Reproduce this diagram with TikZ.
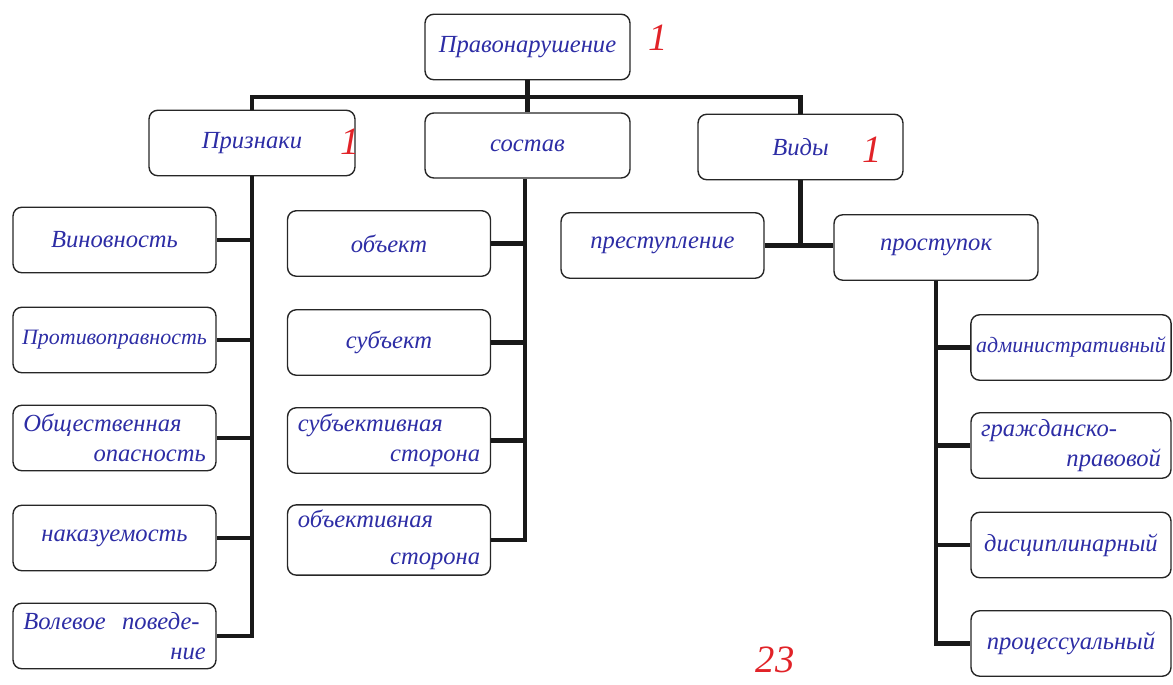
\documentclass[tikz,border=0pt]{standalone}
\usepackage{fontspec}
\setmainfont{Liberation Serif}
\definecolor{ink}{RGB}{45,45,165}
\definecolor{redink}{RGB}{225,35,40}
\begin{document}
\begin{tikzpicture}[x=0.02cm,y=-0.02cm,
  box/.style={draw=black!85, line width=0.8pt, rounded corners=5pt,
    minimum width=4.06cm, minimum height=1.31cm, inner sep=3pt,
    font=\fontsize{14}{17}\selectfont\itshape, text=ink, align=center},
  longword/.style={box, font=\fontsize{12.5}{15}\selectfont\itshape},
  twoline/.style={box, text width=3.65cm, align=left},
  link/.style={line width=2.3pt, line join=miter, draw=black!90},
  redmark/.style={text=redink, font=\fontsize{22}{24}\selectfont\itshape, inner sep=0pt}]
\useasboundingbox (0,0) rectangle (1173,685);

% top level
\node[box, minimum width=4.1cm] (root) at (527.5,47) {Правонарушение};
\node[box, minimum width=4.12cm] (priz) at (252,143) {Признаки};
\node[box, minimum width=4.1cm, minimum height=1.3cm] (sost) at (527.5,145.5) {состав};
\node[box, minimum width=4.1cm] (vidy) at (800.5,147) {Виды};

% left column
\node[box] (vin)  at (114.5,240) {Виновность};
\node[longword] (prot) at (114.5,340) {Противоправность};
\node[twoline] (obsh) at (114.5,438) {Общественная\\\mbox{}\hfill опасность};
\node[box] (nak)  at (114.5,538) {наказуемость};
\node[twoline] (vol)  at (114.5,636) {Волевое\ \ поведе-\\\mbox{}\hfill ние};

% middle column
\node[box] (obj)   at (389,243.5) {объект};
\node[box] (subj)  at (389,342.5) {субъект};
\node[twoline] (subjst) at (389,440.5) {субъективная\\\mbox{}\hfill сторона};
\node[twoline] (objst)  at (389,540) {объективная\\[4pt]\mbox{}\hfill сторона};

% right part
\node[box] (prest) at (662.5,245.5) {преступление};
\node[box, minimum width=4.08cm] (prost) at (936,247.5) {проступок};
\node[longword, minimum width=4.0cm] (adm)   at (1071,347.5) {административный};
\node[twoline, minimum width=4.0cm, text width=3.6cm] (grazh) at (1071,445.5) {гражданско-\\\mbox{}\hfill правовой};
\node[box, minimum width=4.0cm] (disc)  at (1071,545) {дисциплинарный};
\node[box, minimum width=4.0cm] (proc)  at (1071,643.5) {процессуальный};

% red marks
\node[redmark] (m1) at (658,38) {1};
\node[redmark] (m2) at (350,142) {1};
\node[redmark] (m3) at (872,150) {1};
\node[redmark] (m4) at (775,660) {23};

% connectors
\coordinate (bar) at (250,97);
\draw[link] (root.south) -- (root.south |- bar);
\draw[link] (priz.north) -- (priz.north |- bar) -- (vidy.north |- bar) -- (vidy.north);
\draw[link] (sost.north) -- (sost.north |- bar);

\draw[link] (priz.south) -- (priz.south |- vol.east) -- (vol.east);
\foreach \n in {vin,prot,obsh,nak}
  \draw[link] (\n.east) -- (priz.south |- \n.east);

\coordinate (mv) at (525,0);
\draw[link] (sost.south -| mv) -- (mv |- objst.east) -- (objst.east);
\foreach \n in {obj,subj,subjst}
  \draw[link] (\n.east) -- (mv |- \n.east);

\coordinate (hv) at (prest.east -| vidy.south);
\draw[link] (vidy.south) -- (hv);
\draw[link] (prest.east) -- (prost.west |- prest.east);

\draw[link] (prost.south) -- (prost.south |- proc.west) -- (proc.west);
\foreach \n in {adm,grazh,disc}
  \draw[link] (\n.west) -- (prost.south |- \n.west);
\end{tikzpicture}
\end{document}
